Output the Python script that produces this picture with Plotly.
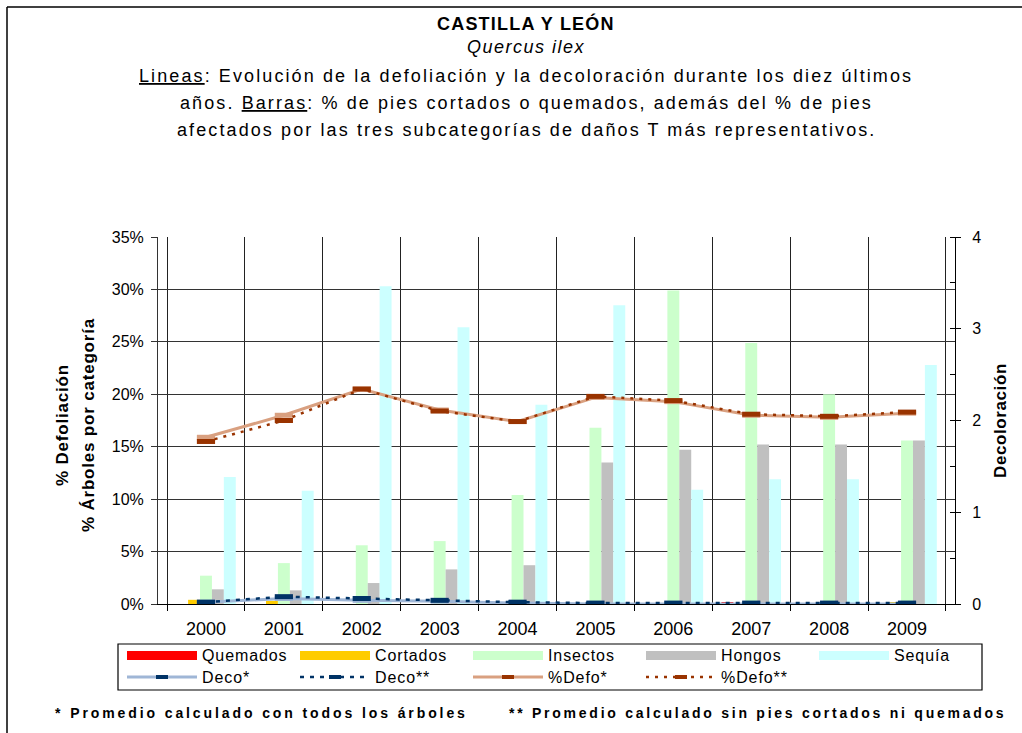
import plotly.graph_objects as go

years = ["2000", "2001", "2002", "2003", "2004", "2005", "2006", "2007", "2008", "2009"]
quemados = [0, 0, 0, 0, 0, 0, 0, 0.1, 0, 0]
cortados = [0.4, 0.3, 0, 0, 0, 0, 0, 0, 0, 0.1]
insectos = [2.7, 3.9, 5.6, 6.0, 10.4, 16.8, 29.9, 24.9, 20.0, 15.6]
hongos = [1.4, 1.3, 2.0, 3.3, 3.7, 13.5, 14.7, 15.2, 15.2, 15.6]
sequia = [12.1, 10.8, 30.3, 26.4, 19.0, 28.5, 10.9, 11.9, 11.9, 22.8]
deco_all = [0.02, 0.06, 0.04, 0.03, 0.01, 0.0, 0.0, 0.0, 0.0, 0.0]
deco_sin = [0.02, 0.08, 0.06, 0.04, 0.02, 0.01, 0.01, 0.01, 0.01, 0.01]
defo_all = [15.9, 18.0, 20.5, 18.5, 17.4, 19.7, 19.3, 18.0, 17.8, 18.2]
defo_sin = [15.5, 17.5, 20.5, 18.4, 17.4, 19.8, 19.4, 18.1, 17.9, 18.3]

FONT = "Liberation Sans, Arial, sans-serif"
C_QUEM, C_CORT, C_INS, C_HON, C_SEQ = "#FF0000", "#FFCC00", "#CCFFCC", "#C0C0C0", "#CCFFFF"
C_DECO_L, C_DECO_M = "#9fb6d6", "#003366"
C_DEFO_L, C_DEFO_M = "#d9a080", "#993300"

W, H = 1022, 733
L, R, T, B = 158, 955, 237, 604


def px(x):
    return (x - L) / (R - L)


def py(y):
    return (B - y) / (B - T)


def sp(text, s):
    return '<span style="letter-spacing:%spx">%s</span>' % (s, text)


fig = go.Figure()
for name, vals, col in [("Quemados", quemados, C_QUEM), ("Cortados", cortados, C_CORT),
                        ("Insectos", insectos, C_INS), ("Hongos", hongos, C_HON),
                        ("Sequía", sequia, C_SEQ)]:
    fig.add_trace(go.Bar(x=years, y=vals, name=name, marker=dict(color=col, line=dict(width=0)),
                         showlegend=False))

mk = dict(symbol="line-ew-open", size=13)
fig.add_trace(go.Scatter(x=years, y=defo_all, name="%Defo*", mode="lines+markers",
                         line=dict(color=C_DEFO_L, width=3),
                         marker=dict(**mk, line=dict(color=C_DEFO_M, width=5)), showlegend=False))
fig.add_trace(go.Scatter(x=years, y=defo_sin, name="%Defo**", mode="lines+markers",
                         line=dict(color=C_DEFO_M, width=2.5, dash="3px,6px"),
                         marker=dict(**mk, line=dict(color=C_DEFO_M, width=5)), showlegend=False))
fig.add_trace(go.Scatter(x=years, y=deco_all, name="Deco*", mode="lines+markers", yaxis="y2",
                         line=dict(color=C_DECO_L, width=3),
                         marker=dict(**mk, line=dict(color=C_DECO_M, width=5)), showlegend=False))
fig.add_trace(go.Scatter(x=years, y=deco_sin, name="Deco**", mode="lines+markers", yaxis="y2",
                         line=dict(color=C_DECO_M, width=2.5, dash="4px,6px"),
                         marker=dict(**mk, line=dict(color=C_DECO_M, width=5)), showlegend=False))

ann = []
# Titles
title_lines = [
    (23, sp("<b>CASTILLA Y LEÓN</b>", 1.2), 18),
    (47, sp("<i>Quercus ilex</i>", 1.5), 18),
    (76, sp('<span style="text-decoration:underline">Lineas</span>: Evolución de la defoliación y la decoloración durante los diez últimos', 2.1), 18),
    (103, sp('años. <span style="text-decoration:underline">Barras</span>: % de pies cortados o quemados, además del % de pies', 2.1), 18),
    (130, sp("afectados por las tres subcategorías de daños T más representativos.", 2.1), 18),
]
for y, txt, fs in title_lines:
    ann.append(dict(x=px(526), y=py(y), xref="paper", yref="paper", text=txt, showarrow=False,
                    xanchor="center", yanchor="middle", font=dict(family=FONT, size=fs, color="black")))

# Axis titles
ann.append(dict(x=px(62), y=py(425), xref="paper", yref="paper", text=sp("<b>% Defoliación</b>", 0.8),
                textangle=-90, showarrow=False, xanchor="center", yanchor="middle",
                font=dict(family=FONT, size=17, color="black")))
ann.append(dict(x=px(88), y=py(425), xref="paper", yref="paper", text=sp("<b>% Árboles por categoría</b>", 0.8),
                textangle=-90, showarrow=False, xanchor="center", yanchor="middle",
                font=dict(family=FONT, size=17, color="black")))
ann.append(dict(x=px(1000), y=py(421), xref="paper", yref="paper", text=sp("<b>Decoloración</b>", 0.6),
                textangle=-90, showarrow=False, xanchor="center", yanchor="middle",
                font=dict(family=FONT, size=17, color="black")))

# Footnotes
ann.append(dict(x=px(53), y=py(713), xref="paper", yref="paper",
                text=sp("<b>* Promedio calculado con todos los árboles</b>", 2.9),
                showarrow=False, xanchor="left", yanchor="middle", font=dict(family=FONT, size=14, color="black")))
ann.append(dict(x=px(507), y=py(713), xref="paper", yref="paper",
                text=sp("<b>** Promedio calculado sin pies cortados ni quemados</b>", 2.75),
                showarrow=False, xanchor="left", yanchor="middle", font=dict(family=FONT, size=14, color="black")))

shapes = []
# Outer frame (top and left edges)
shapes.append(dict(type="line", xref="paper", yref="paper", x0=px(7), x1=px(1022), y0=py(7), y1=py(7),
                   line=dict(color="black", width=1.5)))
shapes.append(dict(type="line", xref="paper", yref="paper", x0=px(7), x1=px(7), y0=py(7), y1=py(733),
                   line=dict(color="black", width=1.5)))

# Legend box
shapes.append(dict(type="rect", xref="paper", yref="paper", x0=px(118), x1=px(982), y0=py(644), y1=py(690),
                   line=dict(color="black", width=1.2), fillcolor="white", layer="above"))
cols = [127, 300, 473, 646, 819]
row1 = [("Quemados", C_QUEM), ("Cortados", C_CORT), ("Insectos", C_INS), ("Hongos", C_HON), ("Sequía", C_SEQ)]
for x0, (name, col) in zip(cols, row1):
    shapes.append(dict(type="rect", xref="paper", yref="paper", x0=px(x0), x1=px(x0 + 70),
                       y0=py(651), y1=py(660), line=dict(width=0), fillcolor=col, layer="above"))
    ann.append(dict(x=px(x0 + 73), y=py(655.5), xref="paper", yref="paper", text=sp(name, 0.9),
                    showarrow=False, xanchor="left", yanchor="middle", font=dict(family=FONT, size=16, color="black")))
row2 = [("Deco*", C_DECO_L, 3, "solid", C_DECO_M), ("Deco**", C_DECO_M, 2.5, "4px,6px", C_DECO_M),
        ("%Defo*", C_DEFO_L, 3, "solid", C_DEFO_M), ("%Defo**", C_DEFO_M, 2.5, "3px,6px", C_DEFO_M)]
for x0, (name, lc, lw, dash, mc) in zip(cols, row2):
    shapes.append(dict(type="line", xref="paper", yref="paper", x0=px(x0), x1=px(x0 + 70),
                       y0=py(677), y1=py(677), line=dict(color=lc, width=lw, dash=dash), layer="above"))
    shapes.append(dict(type="rect", xref="paper", yref="paper", x0=px(x0 + 29), x1=px(x0 + 41),
                       y0=py(675), y1=py(679), line=dict(width=0), fillcolor=mc, layer="above"))
    ann.append(dict(x=px(x0 + 73), y=py(677), xref="paper", yref="paper", text=sp(name, 0.9),
                    showarrow=False, xanchor="left", yanchor="middle", font=dict(family=FONT, size=16, color="black")))

fig.update_layout(
    width=W, height=H,
    margin=dict(l=L, r=W - R, t=T, b=H - B, pad=0),
    paper_bgcolor="white", plot_bgcolor="white",
    barmode="group", bargap=0.235, bargroupgap=0,
    showlegend=False,
    font=dict(family=FONT, color="black"),
    xaxis=dict(type="category", tickson="boundaries", showgrid=True, gridcolor="#222", gridwidth=1,
               showline=True, linecolor="black", linewidth=1, ticks="outside", ticklen=6, tickcolor="black",
               tickfont=dict(family=FONT, size=18, color="black"), ticklabelstandoff=8),
    yaxis=dict(range=[0, 35], dtick=5, ticksuffix="%", showgrid=True, gridcolor="#333", gridwidth=1,
               zeroline=False, showline=True, linecolor="#333", linewidth=1, ticks="outside", ticklen=6,
               tickcolor="#333", tickfont=dict(family=FONT, size=16, color="black"), ticklabelstandoff=4),
    yaxis2=dict(overlaying="y", side="right", range=[0, 4], dtick=1, showgrid=False, zeroline=False,
                showline=True, linecolor="black", linewidth=1, ticks="outside", ticklen=5, tickcolor="black",
                minor=dict(dtick=0.5, ticks="inside", ticklen=5, tickcolor="black"),
                tickfont=dict(family=FONT, size=16, color="black"), ticklabelstandoff=8),
    annotations=ann,
    shapes=shapes,
)

fig.write_html("out.html", config={"displayModeBar": False},
               post_script="document.body.style.margin='0';document.body.style.overflow='hidden';")
